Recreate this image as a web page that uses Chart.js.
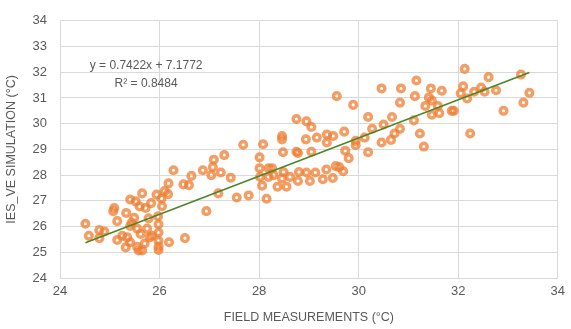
<!DOCTYPE html>
<html>
<head>
<meta charset="utf-8">
<script src="https://cdn.jsdelivr.net/npm/chart.js@4"></script>
<style>
  html, body { margin: 0; padding: 0; background: #fff; }
  #wrap { width: 571px; height: 329px; }
</style>
</head>
<body>
<div id="wrap"><canvas id="fitChart" width="571" height="329"></canvas></div>
<script>
const fieldTemps = [
  24.51, 24.58, 24.79, 24.79, 24.89, 25.07, 25.09, 25.15, 25.15, 25.25,
  25.32, 25.33, 25.35, 25.41, 25.41, 25.41, 25.44, 25.49, 25.52, 25.55,
  25.55, 25.58, 25.60, 25.62, 25.65, 25.65, 25.70, 25.72, 25.75, 25.78,
  25.80, 25.83, 25.85, 25.94, 25.97, 25.98, 25.98, 25.98, 25.98, 25.98,
  26.04, 26.05, 26.10, 26.17, 26.18, 26.48, 26.59, 26.19, 26.51, 26.94,
  26.28, 26.64, 26.87, 27.04, 27.07, 27.09, 27.23, 27.30, 27.43, 27.18,
  27.55, 27.79, 28.15, 27.68, 28.08, 28.01, 28.01, 28.06, 28.02, 28.19,
  28.29, 28.19, 28.37, 28.55, 28.46, 28.62, 28.49, 28.26, 28.80, 28.78,
  28.95, 29.02, 29.13, 29.28, 29.35, 29.48, 29.54, 29.61, 29.69, 29.80,
  29.73, 28.48, 28.75, 28.78, 29.05, 28.46, 28.46, 28.94, 29.16, 29.36,
  29.49, 29.36, 29.71, 29.94, 28.75, 28.95, 29.05, 29.56, 29.89,
  30.19, 30.46, 30.85, 31.16, 31.45, 31.67, 31.13, 31.41, 31.47, 30.83,
  31.34, 31.59, 31.62, 31.47, 31.87, 30.67, 31.11, 30.50, 30.27, 30.83,
  30.12, 30.72, 30.65, 31.23, 30.46, 31.31, 30.19, 29.94, 32.13, 33.26,
  32.61, 32.10, 32.46, 32.32, 32.05, 32.18, 32.53, 32.76, 33.43, 33.31,
  32.91, 31.91, 32.24
];
const simTemps = [
  26.11, 25.64, 25.86, 25.55, 25.81, 26.60, 26.72, 26.21, 25.48, 25.64,
  25.19, 26.53, 25.58, 27.05, 26.02, 25.39, 26.15, 26.34, 26.98, 25.92,
  25.21, 25.07, 26.78, 25.71, 27.29, 25.07, 25.34, 26.72, 25.92, 26.32,
  25.58, 26.91, 25.64, 27.24, 26.40, 26.09, 25.77, 25.45, 25.22, 25.09,
  27.09, 26.79, 27.38, 27.26, 27.68, 27.64, 27.61, 25.39, 25.55, 26.60,
  28.19, 27.97, 28.19, 28.00, 28.31, 28.60, 28.10, 28.78, 27.90, 27.29,
  27.13, 27.21, 27.08, 29.18, 29.20, 28.69, 28.27, 27.59, 27.93, 28.27,
  28.00, 27.93, 27.55, 27.55, 27.87, 27.93, 28.12, 28.27, 28.12, 27.77,
  28.10, 27.77, 28.10, 27.84, 28.22, 27.89, 28.35, 28.31, 28.15, 28.66,
  28.95, 28.89, 28.91, 28.86, 28.91, 29.52, 29.39, 29.39, 29.46, 29.58,
  29.52, 29.27, 29.69, 29.33, 30.18, 30.09, 29.87, 31.07, 30.73,
  30.26, 31.37, 31.37, 31.68, 31.37, 31.28, 31.07, 31.02, 30.90, 30.82,
  30.69, 30.69, 30.41, 30.35, 30.50, 30.26, 30.13, 29.97, 29.80, 29.80,
  29.46, 29.62, 29.37, 29.62, 29.27, 29.11, 28.89, 29.16, 32.13, 31.91,
  31.81, 31.45, 31.40, 31.24, 31.18, 30.98, 31.24, 31.30, 31.20, 30.82,
  30.50, 30.50, 29.62
];

// linear trendline from the chart's own equation
const trendSlope = 0.7422;
const trendIntercept = 7.1772;
const rSquared = 0.8484;

const xTicks = [24, 26, 28, 30, 32, 34];
const yTicks = [24, 25, 26, 27, 28, 29, 30, 31, 32, 33, 34];

const points = fieldTemps.map((x, i) => ({ x: x, y: simTemps[i] }));
const xMin = Math.min(...fieldTemps);
const xMax = Math.max(...fieldTemps);
const trendPoints = [xMin, xMax].map(x => ({ x: x, y: trendSlope * x + trendIntercept }));

const labelColor = '#595959';
const gridColor = '#d9d9d9';
const fontFamily = '"Liberation Sans", Arial, sans-serif';

// draws the equation and R² the way Excel places them on the plot
const equationLabel = {
  id: 'equationLabel',
  afterDraw(chart) {
    const ctx = chart.ctx;
    const xs = chart.scales.x, ys = chart.scales.y;
    ctx.save();
    ctx.fillStyle = labelColor;
    ctx.font = '12px ' + fontFamily;
    ctx.textAlign = 'center';
    ctx.textBaseline = 'middle';
    ctx.fillText('y = ' + trendSlope + 'x + ' + trendIntercept,
      xs.getPixelForValue(25.73), ys.getPixelForValue(32.24));
    ctx.fillText('R² = ' + rSquared,
      xs.getPixelForValue(25.73), ys.getPixelForValue(31.56));
    ctx.restore();
  }
};

new Chart(document.getElementById('fitChart'), {
  type: 'scatter',
  data: {
    datasets: [
      {
        label: 'Simulation',
        data: points,
        pointRadius: 3.3,
        pointBorderWidth: 3.5,
        pointBackgroundColor: 'rgba(255,255,255,0)',
        pointBorderColor: 'rgba(237,125,49,0.75)',
        pointHoverRadius: 3.3,
        order: 2
      },
      {
        label: 'Linear',
        type: 'line',
        data: trendPoints,
        borderColor: '#4a8527',
        borderWidth: 1.5,
        pointRadius: 0,
        fill: false,
        order: 1
      }
    ]
  },
  options: {
    responsive: false,
    animation: false,
    layout: { padding: { top: 16, right: 6, left: 0, bottom: 0 } },
    plugins: {
      legend: { display: false },
      tooltip: { enabled: false }
    },
    scales: {
      x: {
        type: 'linear',
        min: 24,
        max: 34,
        afterBuildTicks: axis => { axis.ticks = xTicks.map(v => ({ value: v })); },
        afterFit: axis => { axis.height = 51; },
        grid: { color: gridColor, lineWidth: 1, drawTicks: false },
        border: { color: gridColor },
        ticks: { color: labelColor, font: { size: 13, family: fontFamily }, padding: 6 },
        title: {
          display: true,
          text: 'FIELD MEASUREMENTS (°C)',
          color: labelColor,
          font: { size: 12.5, family: fontFamily },
          padding: { top: 9 }
        }
      },
      y: {
        type: 'linear',
        min: 24,
        max: 34,
        afterBuildTicks: axis => { axis.ticks = yTicks.map(v => ({ value: v })); },
        afterFit: axis => { axis.width = 60; },
        grid: { color: gridColor, lineWidth: 1, drawTicks: false },
        border: { color: gridColor },
        ticks: { color: labelColor, font: { size: 13, family: fontFamily }, padding: 13 },
        title: {
          display: true,
          text: 'IES_VE SIMULATION (°C)',
          color: labelColor,
          font: { size: 12.5, family: fontFamily },
          padding: { bottom: 0 }
        }
      }
    }
  },
  plugins: [equationLabel]
});
</script>
</body>
</html>
